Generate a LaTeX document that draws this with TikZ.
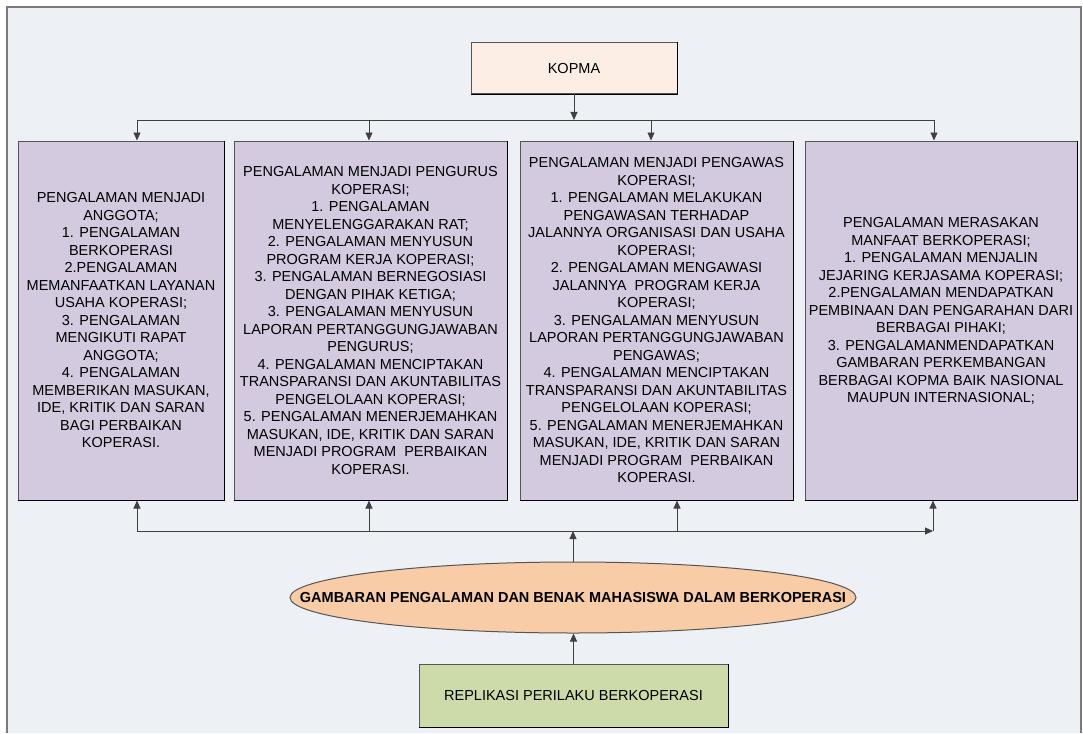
\documentclass[tikz,border=0pt]{standalone}
\usepackage{fontspec}
\setmainfont{Liberation Sans}
\usetikzlibrary{arrows.meta,shapes.geometric}

\definecolor{panelbg}{HTML}{EDF0F5}
\definecolor{framegray}{HTML}{7A7A7A}
\definecolor{edgegray}{HTML}{555555}
\definecolor{linkgray}{HTML}{404040}
\definecolor{lavender}{HTML}{D3CAE0}
\definecolor{peachlight}{HTML}{FCEEE4}
\definecolor{peach}{HTML}{F9CCA8}
\definecolor{sage}{HTML}{CCDBA9}

\tikzset{
  txt/.style={font=\fontsize{14.5pt}{17.5pt}\selectfont, text=black, align=center},
  card/.style={txt, draw=edgegray, line width=1pt, inner sep=0pt},
  column/.style={card, fill=lavender, minimum height=359pt},
  link/.style={draw=linkgray, line width=0.9pt},
  arr/.style={link, -{Triangle[length=8pt,width=7pt]}},
}

\newcommand{\shadowedge}[1]{\draw[black, line width=1pt] (#1.south west) -- (#1.south east) -- (#1.north east);}

\begin{document}
\begin{tikzpicture}[x=1pt,y=-1pt]
\useasboundingbox (0,0) rectangle (1083,733);
\fill[white] (0,0) rectangle (1083,733);

% panel
\fill[panelbg] (7,7) rectangle (1081,733);
\draw[framegray, line width=1.2pt] (7,733) -- (7,7) -- (1081,7) -- (1081,733);

% top box
\node[card, fill=peachlight, minimum width=206pt, minimum height=51pt] (kopma) at (574,68.5) {KOPMA};
\shadowedge{kopma}

% four columns
\node[column, minimum width=206pt] (c1) at (121,320.5) {};
\node[txt] (c1t) at (121,320.5) {PENGALAMAN MENJADI\\ANGGOTA;\\1. PENGALAMAN\\BERKOPERASI\\2.PENGALAMAN\\MEMANFAATKAN LAYANAN\\USAHA KOPERASI;\\3. PENGALAMAN\\MENGIKUTI RAPAT\\ANGGOTA;\\4. PENGALAMAN\\MEMBERIKAN MASUKAN,\\IDE, KRITIK DAN SARAN\\BAGI PERBAIKAN\\KOPERASI.};
\shadowedge{c1}

\node[column, minimum width=273pt] (c2) at (370.5,320.5) {};
\node[txt] (c2t) at (370.5,320.5) {PENGALAMAN MENJADI PENGURUS\\KOPERASI;\\1. PENGALAMAN\\MENYELENGGARAKAN RAT;\\2. PENGALAMAN MENYUSUN\\PROGRAM KERJA KOPERASI;\\3. PENGALAMAN BERNEGOSIASI\\DENGAN PIHAK KETIGA;\\3. PENGALAMAN MENYUSUN\\LAPORAN PERTANGGUNGJAWABAN\\PENGURUS;\\4. PENGALAMAN MENCIPTAKAN\\TRANSPARANSI DAN AKUNTABILITAS\\PENGELOLAAN KOPERASI;\\5. PENGALAMAN MENERJEMAHKAN\\MASUKAN, IDE, KRITIK DAN SARAN\\MENJADI PROGRAM\ \ PERBAIKAN\\KOPERASI.};
\shadowedge{c2}

\node[column, minimum width=273pt] (c3) at (656.5,320.5) {};
\node[txt] (c3t) at (656.5,320.5) {PENGALAMAN MENJADI PENGAWAS\\KOPERASI;\\1. PENGALAMAN MELAKUKAN\\PENGAWASAN TERHADAP\\JALANNYA ORGANISASI DAN USAHA\\KOPERASI;\\2. PENGALAMAN MENGAWASI\\JALANNYA\ \ PROGRAM KERJA\\KOPERASI;\\3. PENGALAMAN MENYUSUN\\LAPORAN PERTANGGUNGJAWABAN\\PENGAWAS;\\4. PENGALAMAN MENCIPTAKAN\\TRANSPARANSI DAN AKUNTABILITAS\\PENGELOLAAN KOPERASI;\\5. PENGALAMAN MENERJEMAHKAN\\MASUKAN, IDE, KRITIK DAN SARAN\\MENJADI PROGRAM\ \ PERBAIKAN\\KOPERASI.};
\shadowedge{c3}

\node[column, minimum width=272pt] (c4) at (941,320.5) {};
\node[txt] (c4t) at (941,311) {PENGALAMAN MERASAKAN\\MANFAAT BERKOPERASI;\\1. PENGALAMAN MENJALIN\\JEJARING KERJASAMA KOPERASI;\\2.PENGALAMAN MENDAPATKAN\\PEMBINAAN DAN PENGARAHAN DARI\\BERBAGAI PIHAKI;\\3. PENGALAMANMENDAPATKAN\\GAMBARAN PERKEMBANGAN\\BERBAGAI KOPMA BAIK NASIONAL\\MAUPUN INTERNASIONAL;};
\shadowedge{c4}

% ellipse (shape and label kept apart so the label does not widen it)
\node[draw=edgegray, line width=1pt, ellipse, fill=peach, inner sep=0pt, minimum width=566pt, minimum height=71pt] (ell) at (573,597.5) {};
\node[txt, font=\fontsize{14.5pt}{17.5pt}\selectfont\bfseries] (ellt) at (ell.center) {GAMBARAN PENGALAMAN DAN BENAK MAHASISWA DALAM BERKOPERASI};

% bottom box
\node[card, fill=sage, minimum width=309pt, minimum height=63pt] (repl) at (573.5,695.5) {REPLIKASI PERILAKU BERKOPERASI};
\shadowedge{repl}

% upper distribution bus
\coordinate (t1) at (137,120);
\coordinate (t2) at (369,120);
\coordinate (t3) at (651,120);
\coordinate (t4) at (934,120);
\draw[link] (t1) -- (t4);
\draw[arr] (kopma.south) -- (kopma.south |- t1);
\draw[arr] (t1) -- (t1 |- c1.north);
\draw[arr] (t2) -- (t2 |- c2.north);
\draw[arr] (t3) -- (t3 |- c3.north);
\draw[arr] (t4) -- (t4 |- c4.north);

% lower collection bus
\coordinate (b1) at (137,531);
\coordinate (b2) at (369,531);
\coordinate (b3) at (677,531);
\coordinate (b4) at (933,531);
\draw[arr] (b1) -- (b4);
\draw[arr] (b1) -- (b1 |- c1.south);
\draw[arr] (b2) -- (b2 |- c2.south);
\draw[arr] (b3) -- (b3 |- c3.south);
\draw[arr] (b4) -- (b4 |- c4.south);
\draw[arr] (ell.north) -- (ell.north |- b1);
\draw[arr] (repl.north) -- (repl.north |- ell.south);
\end{tikzpicture}
\end{document}
